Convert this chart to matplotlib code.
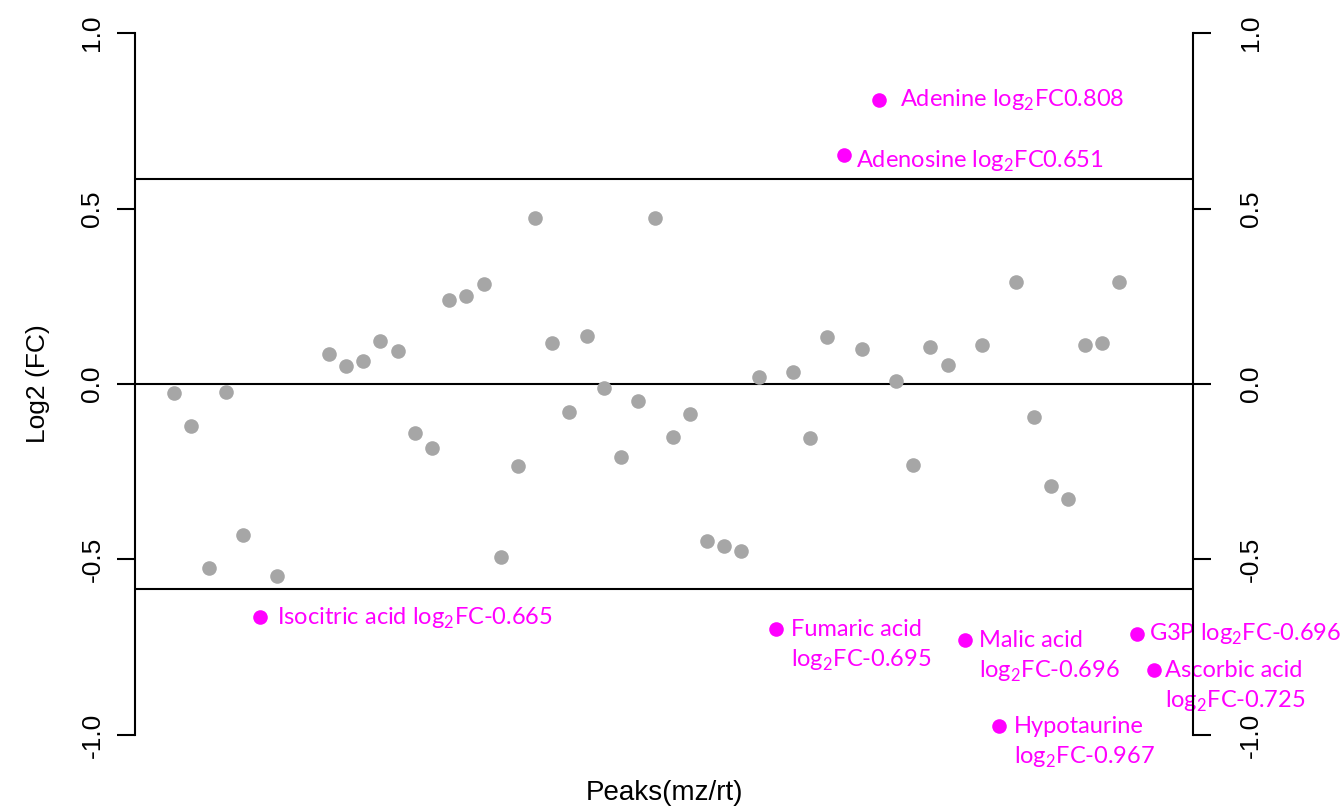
import matplotlib
matplotlib.use("Agg")
import matplotlib.pyplot as plt
import numpy as np

plt.rcParams['mathtext.fontset'] = 'custom'
plt.rcParams['mathtext.rm'] = 'Lato'

# gray peaks: index and log2 FC
gray_idx = [1, 2, 3, 4, 5, 7, 10, 11, 12, 13, 14, 15, 16, 17, 18, 19, 20, 21, 22, 23,
            24, 25, 26, 27, 28, 29, 30, 31, 32, 33, 34, 35, 37, 38, 39, 41, 43, 44,
            45, 46, 48, 50, 51, 52, 53, 54, 55, 56]
gray_fc = [-0.026, -0.120, -0.524, -0.023, -0.430, -0.547, 0.085, 0.051, 0.066, 0.123,
           0.094, -0.140, -0.182, 0.239, 0.251, 0.285, -0.493, -0.234, 0.473, 0.117,
           -0.080, 0.137, -0.011, -0.208, -0.048, 0.473, -0.151, -0.085, -0.447, -0.462,
           -0.476, 0.020, 0.034, -0.154, 0.134, 0.100, 0.009, -0.231, 0.105, 0.054,
           0.111, 0.291, -0.094, -0.291, -0.328, 0.111, 0.117, 0.291]

# highlighted metabolites
hl_idx = [6, 36, 40, 42, 47, 49, 57, 58]
hl_fc = [-0.665, -0.698, 0.652, 0.809, -0.729, -0.974, -0.712, -0.815]
hl_names = ["Isocitric acid", "Fumaric acid", "Adenosine", "Adenine",
            "Malic acid", "Hypotaurine", "G3P", "Ascorbic acid"]
hl_values = ["-0.665", "-0.695", "0.651", "0.808", "-0.696", "-0.967", "-0.696", "-0.725"]
hl_twoline = [False, True, False, False, True, True, False, True]
hl_dx = [17, 15, 12, 21, 14, 15, 12, 11]
hl_dy = [0, 0, -6, 0, 0, 0, 0, 0]

fc_cut = np.log2(1.5)
yticks = [-1.0, -0.5, 0.0, 0.5, 1.0]
ytick_labels = ["-1.0", "-0.5", "0.0", "0.5", "1.0"]

W, H = 1342, 810
fig = plt.figure(figsize=(W / 100, H / 100), dpi=100)
ax = fig.add_axes([135 / W, 47 / H, (1193 - 135) / W, (763 - 5) / H])

n = 58
pad = 0.04 * (n - 1)
ax.set_xlim(1 - pad, n + pad)
ax.set_ylim(-1.08, 1.08)

for yv in [fc_cut, 0.0, -fc_cut]:
    ax.axhline(yv, color='black', lw=1.5, zorder=1)

ax.plot(gray_idx, gray_fc, 'o', color='#a6a6a6', ms=10.5, mec='none', zorder=2)
ax.plot(hl_idx, hl_fc, 'o', color='#ff00ff', ms=10.5, mec='none', zorder=3)

for x, y, name, val, two, dx, dy in zip(hl_idx, hl_fc, hl_names, hl_values,
                                        hl_twoline, hl_dx, hl_dy):
    valtxt = r"log$_\mathregular{2}$FC" + val
    lines = [name, valtxt] if two else [name + " " + valtxt]
    for i, t in enumerate(lines):
        ax.annotate(t, (x, y), xytext=(dx, dy - 7 - 31 * i), textcoords='offset pixels',
                    ha='left', va='baseline', color='#ff00ff', fontsize=17,
                    family='Lato', zorder=4, annotation_clip=False)

for s in ['top', 'bottom', 'right']:
    ax.spines[s].set_visible(False)
ax.spines['left'].set_bounds(-1, 1)
ax.spines['left'].set_linewidth(1.5)

ax.set_xticks([])
ax.set_yticks(yticks)
ax.set_yticklabels(ytick_labels, rotation=90, va='center',
                   family='Liberation Sans', fontsize=19)
ax.tick_params(axis='y', left=True, right=False, length=13, width=1.5,
               direction='out', pad=9)

ax2 = ax.twinx()
ax2.set_ylim(ax.get_ylim())
for s in ['top', 'bottom', 'left']:
    ax2.spines[s].set_visible(False)
ax2.spines['right'].set_bounds(-1, 1)
ax2.spines['right'].set_linewidth(1.5)
ax2.set_yticks(yticks)
ax2.set_yticklabels(ytick_labels, rotation=90, va='center',
                    family='Liberation Sans', fontsize=19)
ax2.tick_params(axis='y', length=13, width=1.5, direction='out', pad=20)

ax.set_ylabel("Log2 (FC)", family='Liberation Sans', fontsize=19, labelpad=22)
ax.set_xlabel("Peaks(mz/rt)", family='Liberation Sans', fontsize=20, labelpad=12)

fig.savefig("out.png", dpi=100, facecolor='white')
